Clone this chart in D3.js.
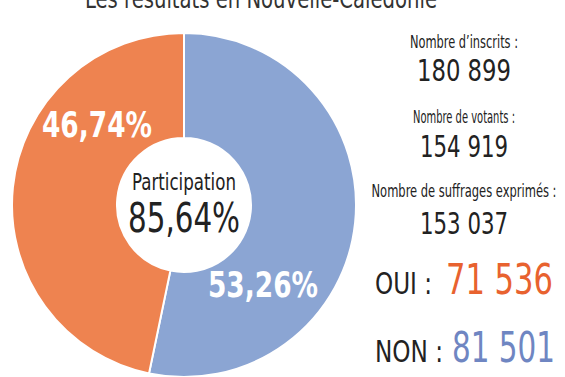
<!DOCTYPE html>
<html>
<head>
<meta charset="utf-8">
<script src="https://cdn.jsdelivr.net/npm/d3@7"></script>
<style>
  body { margin: 0; background: #fff; }
  svg { display: block; }
  text { font-family: "Liberation Sans Narrow", "DejaVu Sans Condensed", sans-serif; }
</style>
</head>
<body>
<div id="chart"></div>
<script>
// data
const answers = ["NON", "OUI"];
const shares = [53.26, 46.74];
const shareLabels = ["53,26%", "46,74%"];
const voteCounts = ["81 501", "71 536"];
const statNames = ["Nombre d\u2019inscrits :", "Nombre de votants :", "Nombre de suffrages exprim\u00e9s :"];
const statValues = ["180 899", "154 919", "153 037"];
const participation = "85,64%";
const title = "Les r\u00e9sultats en Nouvelle-Cal\u00e9donie";

const width = 565, height = 377;
const colors = { NON: "#8ba5d3", OUI: "#ee8350" };
const numColors = { NON: "#6f86c2", OUI: "#e8622f" };

const svg = d3.select("#chart").append("svg")
  .attr("width", width).attr("height", height);

// helper: text squeezed/stretched to a given width
function label(g, x, y, str, size, w, opts = {}) {
  const t = g.append("text")
    .attr("x", x).attr("y", y)
    .attr("text-anchor", opts.anchor || "middle")
    .attr("font-size", size)
    .attr("font-weight", opts.weight || "normal")
    .attr("fill", opts.fill || "#222")
    .text(str);
  if (w) t.attr("textLength", w).attr("lengthAdjust", "spacingAndGlyphs");
  return t;
}

// title, cut off at the top edge
label(svg, 261, 8, title, 27, 352, { fill: "#333" });

// donut
const cx = 184, cy = 205, outerR = 172, innerR = 67;
const pie = d3.pie().sort(null).value(d => d.v);
const arc = d3.arc().innerRadius(innerR).outerRadius(outerR);
const data = answers.map((a, i) => ({ a, v: shares[i] }));

const g = svg.append("g").attr("transform", `translate(${cx},${cy})`);
g.selectAll("path").data(pie(data)).join("path")
  .attr("d", arc)
  .attr("fill", d => colors[d.data.a])
  .attr("stroke", "#fff")
  .attr("stroke-width", 2);

// slice labels
const labelPos = [[79, 92], [-87, -68]];
answers.forEach((a, i) => {
  label(g, labelPos[i][0], labelPos[i][1], shareLabels[i], 36, 110, { weight: "bold", fill: "#fff" });
});

// centre
label(g, 0, -15, "Participation", 23, 104, { fill: "#222" });
label(g, 0, 27, participation, 41, 112, { fill: "#222" });

// right column
const colX = 464;
const statY = [[48, 81], [123, 157], [197, 234]];
const nameW = [108, 102, 185];
const valW = [94, 88, 88];
statNames.forEach((n, i) => {
  label(svg, colX, statY[i][0], n, 17, nameW[i]);
  label(svg, colX, statY[i][1], statValues[i], 30, valW[i]);
});

// OUI / NON counts
const rows = [
  { a: "OUI", y: 294, lx: 375, lw: 57, nx: 446, nw: 107, ns: 43 },
  { a: "NON", y: 362, lx: 375, lw: 68, nx: 452, nw: 103, ns: 42 }
];
rows.forEach(r => {
  const i = answers.indexOf(r.a);
  label(svg, r.lx, r.y, r.a + " :", 30, r.lw, { anchor: "start" });
  label(svg, r.nx, r.y, voteCounts[i], r.ns, r.nw, { anchor: "start", fill: numColors[r.a] });
});
</script>
</body>
</html>
